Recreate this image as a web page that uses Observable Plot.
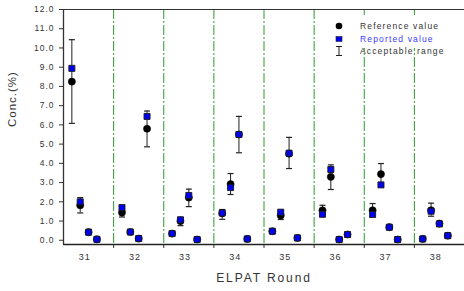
<!DOCTYPE html>
<html><head><meta charset="utf-8">
<script src="https://cdn.jsdelivr.net/npm/d3@7"></script>
<script src="https://cdn.jsdelivr.net/npm/@observablehq/plot@0.6"></script>
<style>
body{margin:0;background:#fff;}
#wrap{position:relative;width:464px;height:291px;overflow:hidden;}
#wrap svg text{letter-spacing:1px;}
.lg{position:absolute;font:8.5px "Liberation Sans",Arial,sans-serif;letter-spacing:1.15px;line-height:10px;color:#333;white-space:nowrap;}
</style></head><body><div id="wrap"></div>
<script>
const rounds = [31,32,33,34,35,36,37,38];
const sampleRound = [31,31,31,31, 32,32,32,32, 33,33,33,33, 34,34,34,34, 35,35,35,35, 36,36,36,36, 37,37,37,37, 38,38,38,38];
const sampleNo    = [1,2,3,4, 1,2,3,4, 1,2,3,4, 1,2,3,4, 1,2,3,4, 1,2,3,4, 1,2,3,4, 1,2,3,4];
const reference = [8.25,1.82,0.42,0.05, 1.44,0.43,0.09,5.80, 0.35,1.00,2.22,0.04, 1.40,2.92,5.50,0.07, 0.47,1.29,4.50,0.12, 1.56,3.30,0.04,0.30, 1.56,3.44,0.68,0.04, 0.07,1.56,0.87,0.24];
const reported  = [8.94,2.00,0.42,0.05, 1.70,0.43,0.09,6.44, 0.35,1.06,2.33,0.04, 1.42,2.74,5.50,0.07, 0.47,1.46,4.53,0.12, 1.35,3.68,0.04,0.30, 1.34,2.88,0.68,0.04, 0.07,1.51,0.85,0.24];
const rangeLow  = [6.08,1.42,0.35,0.03, 1.21,0.38,0.07,4.86, 0.30,0.76,1.75,0.03, 1.09,2.38,4.55,0.05, 0.40,1.08,3.73,0.10, 1.30,2.64,0.03,0.25, 1.25,2.88,0.60,0.03, 0.05,1.25,0.72,0.20];
const rangeHigh = [10.43,2.22,0.48,0.07, 1.75,0.48,0.11,6.72, 0.40,1.20,2.66,0.06, 1.60,3.47,6.44,0.09, 0.54,1.50,5.35,0.14, 1.82,3.92,0.06,0.35, 1.91,3.99,0.76,0.06, 0.09,1.93,0.98,0.28];
const yTickValues = [0,1,2,3,4,5,6,7,8,9,10,11,12];
const legendLabels = ["Reference value","Reported value","Acceptable range"];
const xTitle = "ELPAT Round";
const yTitle = "Conc.(%)";

const SLOTS = 6;
const first = rounds[0];
const data = reference.map((v,i)=>({
  x:(sampleRound[i]-first)*SLOTS + sampleNo[i],
  ref:v, rep:reported[i], lo:rangeLow[i], hi:rangeHigh[i]
}));
const boundaries = rounds.slice(1).map(r => (r-first)*SLOTS);
const labelPos = rounds.map(r => (r-first)*SLOTS + 2.55);
const xMax = rounds.length*SLOTS;
const yMin = -0.22, yMax = 12;
const cap = 0.36;

const plot = Plot.plot({
  width:464, height:291,
  marginLeft:63, marginRight:0, marginTop:9, marginBottom:47,
  x:{domain:[0,xMax]},
  y:{domain:[yMin,yMax]},
  style:{fontFamily:"'Liberation Sans', Arial, sans-serif", color:"#333", background:"#fff", overflow:"visible"},
  marks:[
    Plot.ruleX(boundaries,{stroke:"#2f9a2f", strokeWidth:1, strokeDasharray:"10,2,2,2"}),
    Plot.axisY({ticks:yTickValues, tickFormat:d=>d.toFixed(1), tickSize:4, tickPadding:5, fontSize:8.5, label:null, stroke:"#333"}),
    Plot.axisX({ticks:labelPos, tickFormat:(d,i)=>String(rounds[i]), tickSize:0, tickPadding:9, fontSize:9, label:null}),
    Plot.axisX({ticks:boundaries, tickFormat:()=>"", tickSize:4, label:null, stroke:"#333"}),
    Plot.ruleY([yMax],{stroke:"#333"}),
    Plot.ruleY([yMin],{stroke:"#222", strokeWidth:1.3}),
    Plot.ruleX([0],{stroke:"#333", strokeWidth:1.3}),
    Plot.ruleX(data,{x:"x", y1:"lo", y2:"hi", stroke:"#222", strokeWidth:1}),
    Plot.link(data,{x1:d=>d.x-cap, x2:d=>d.x+cap, y1:"hi", y2:"hi", stroke:"#222", strokeWidth:1.2}),
    Plot.link(data,{x1:d=>d.x-cap, x2:d=>d.x+cap, y1:"lo", y2:"lo", stroke:"#222", strokeWidth:1.2}),
    Plot.dot(data,{x:"x", y:"ref", r:3.6, fill:"#000", stroke:"#000", strokeWidth:0.5}),
    Plot.dot(data,{x:"x", y:"rep", symbol:"square", r:3.4, fill:"#0000f0", stroke:"#1a1a1a", strokeWidth:0.9}),
    Plot.text([xTitle],{frameAnchor:"bottom", dy:37, fontSize:12, fill:"#333"}),
    Plot.text([yTitle],{frameAnchor:"left", dx:-51, rotate:-90, fontSize:11.5, fill:"#333"})
  ]
});
const wrap = document.getElementById("wrap");
wrap.appendChild(plot);
d3.select(plot).selectAll("text").filter(function(){return this.textContent===xTitle;}).style("letter-spacing","1.9px");

// legend
const lg = d3.select(wrap);
lg.append("div").style("position","absolute").style("left","327px").style("top","15px").style("width","124px").style("height","33px").style("background","#fff");
const rowsY = [26,39,51];
const sym = lg.append("svg").style("position","absolute").style("left","330px").style("top","18px").attr("width",20).attr("height",40);
sym.append("circle").attr("cx",9).attr("cy",rowsY[0]-18).attr("r",3.3).attr("fill","#000");
sym.append("rect").attr("x",6).attr("y",rowsY[1]-18-2.5).attr("width",6).attr("height",5).attr("fill","#0000f0").attr("stroke","#222").attr("stroke-width",0.6);
sym.append("line").attr("x1",9).attr("x2",9).attr("y1",rowsY[2]-18-4.5).attr("y2",rowsY[2]-18+4.5).attr("stroke","#222");
sym.append("line").attr("x1",6).attr("x2",12).attr("y1",rowsY[2]-18-4.5).attr("y2",rowsY[2]-18-4.5).attr("stroke","#222");
sym.append("line").attr("x1",6).attr("x2",12).attr("y1",rowsY[2]-18+4.5).attr("y2",rowsY[2]-18+4.5).attr("stroke","#222");
legendLabels.forEach((t,i)=>{
  lg.append("div").attr("class","lg").style("left","360px").style("top",(rowsY[i]-5)+"px")
    .style("color", i===1 ? "#3a3aff" : "#333").text(t);
});
</script>
</body></html>
